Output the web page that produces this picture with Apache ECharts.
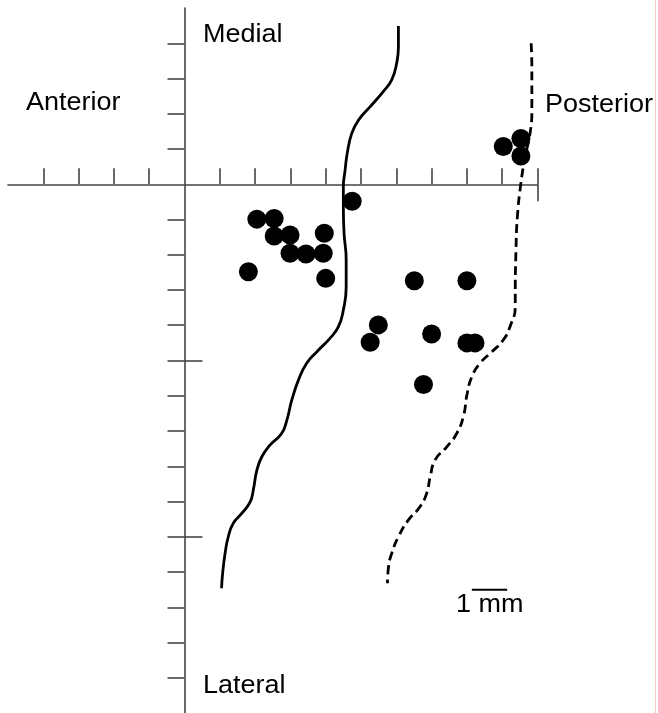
<!DOCTYPE html>
<html>
<head>
<meta charset="utf-8">
<script src="https://cdn.jsdelivr.net/npm/echarts@6/dist/echarts.min.js"></script>
<style>
  html, body { margin: 0; padding: 0; background: #ffffff; }
  #chart { width: 658px; height: 713px; }
</style>
</head>
<body>
<div id="chart"></div>
<script>
// Axis extent (mm) and tick positions
const xRange = [-5, 10];
const yRange = [-15, 5];
const xTickValues = [-4, -3, -2, -1, 1, 2, 3, 4, 5, 6, 7, 8, 9, 10];
const xCrossTicks = [10];
const yTickValues = [-14, -13, -12, -11, -10, -9, -8, -7, -6, -5, -4, -3, -2, -1, 1, 2, 3, 4];
const yCrossTicks = [-10, -5];

// Recording sites (mm)
const siteX = [2.05, 2.54, 2.54, 2.99, 2.99, 3.44, 3.96, 3.93, 1.81, 4.00, 4.75,
               6.51, 8.00, 5.49, 5.26, 7.00, 8.00, 8.23, 6.77,
               9.03, 9.53, 9.53];
const siteY = [-0.99, -0.97, -1.47, -1.44, -1.96, -1.98, -1.39, -1.96, -2.48, -2.67, -0.48,
               -2.74, -2.74, -3.99, -4.48, -4.25, -4.50, -4.50, -5.68,
               1.07, 1.30, 0.80];

// Solid boundary (mm)
const solidX = [6.06, 6.06, 6.01, 5.87, 5.63, 5.26, 4.93, 4.74, 4.61, 4.55, 4.50, 4.50, 4.52,
                4.58, 4.58, 4.50, 4.36, 4.12, 3.75, 3.46, 3.23, 3.04, 2.90, 2.75, 2.42, 2.19,
                2.05, 1.95, 1.86, 1.62, 1.38, 1.24, 1.15, 1.08, 1.05];
const solidY = [4.49, 3.90, 3.43, 2.96, 2.63, 2.20, 1.82, 1.45, 0.88, 0.40, -0.07, -0.64, -1.39,
                -2.15, -2.91, -3.57, -4.04, -4.37, -4.75, -5.08, -5.55, -6.12, -6.69, -7.07, -7.40, -7.73,
                -8.11, -8.67, -9.01, -9.34, -9.62, -10.00, -10.47, -11.04, -11.46];

// Dashed boundary (mm)
const dashX = [9.82, 9.84, 9.84, 9.79, 9.65, 9.53, 9.43, 9.39, 9.37, 9.37, 9.22, 9.03, 8.71, 8.37,
               8.14, 8.01, 7.90, 7.71, 7.43, 7.10, 6.96, 6.86, 6.67, 6.34, 6.06, 5.87, 5.78, 5.75];
const dashY = [4.00, 3.34, 2.11, 1.45, 0.78, 0.03, -0.92, -1.87, -3.19, -3.47, -4.04, -4.42, -4.75, -5.08,
               -5.46, -5.93, -6.59, -7.07, -7.45, -7.82, -8.30, -8.77, -9.15, -9.53, -10.00, -10.47, -10.85, -11.32];

// Scale bar: 1 mm
const scaleBarX = [8.14, 9.14];
const scaleBarY = [-11.5, -11.5];

const zip = (xs, ys) => xs.map((x, i) => [x, ys[i]]);

const axisColor = '#444444';
const textFont = '"Liberation Sans", Arial, Helvetica, sans-serif';

const chart = echarts.init(document.getElementById('chart'), null, { renderer: 'canvas' });

function baseAxis(extra) {
  return Object.assign({
    type: 'value',
    interval: 1,
    splitLine: { show: false },
    axisLabel: { show: false },
    axisLine: { show: true, onZero: true, lineStyle: { color: axisColor, width: 1.6 } },
  }, extra);
}

const label = (text, x, y) => ({
  type: 'text',
  x: x,
  y: y,
  scaleX: 1.08,
  style: {
    text: text,
    fill: '#000',
    font: '25px ' + textFont,
    textAlign: 'left',
    textVerticalAlign: 'middle',
    verticalAlign: 'middle'
  }
});

chart.setOption({
  animation: false,
  backgroundColor: '#ffffff',
  grid: { left: 8, right: 120.5, top: 8, bottom: 0, containLabel: false, outerBoundsMode: 'none' },
  xAxis: [
    baseAxis({
      min: xRange[0], max: xRange[1],
      position: 'bottom',
      axisTick: { show: true, inside: true, length: 16, customValues: xTickValues,
                  lineStyle: { color: axisColor, width: 1.6 } }
    }),
    baseAxis({
      min: xRange[0], max: xRange[1],
      position: 'bottom',
      axisLine: { show: false, onZero: true },
      axisTick: { show: true, inside: false, length: 17, customValues: xCrossTicks,
                  lineStyle: { color: axisColor, width: 1.6 } }
    })
  ],
  yAxis: [
    baseAxis({
      min: yRange[0], max: yRange[1],
      position: 'left',
      axisTick: { show: true, inside: false, length: 17, customValues: yTickValues,
                  lineStyle: { color: axisColor, width: 1.6 } }
    }),
    baseAxis({
      min: yRange[0], max: yRange[1],
      position: 'left',
      axisLine: { show: false, onZero: true },
      axisTick: { show: true, inside: true, length: 18, customValues: yCrossTicks,
                  lineStyle: { color: axisColor, width: 1.6 } }
    })
  ],
  series: [
    {
      type: 'line',
      data: zip(solidX, solidY),
      smooth: 0.5,
      showSymbol: false,
      silent: true,
      lineStyle: { color: '#000', width: 2.8 },
      z: 2
    },
    {
      type: 'line',
      data: zip(dashX, dashY),
      smooth: 0.5,
      showSymbol: false,
      silent: true,
      lineStyle: { color: '#000', width: 2.8, type: [9, 5] },
      z: 2
    },
    {
      type: 'line',
      data: zip(scaleBarX, scaleBarY),
      showSymbol: false,
      silent: true,
      lineStyle: { color: '#000', width: 2 },
      z: 2
    },
    {
      type: 'scatter',
      data: zip(siteX, siteY),
      symbol: 'circle',
      symbolSize: 19,
      itemStyle: { color: '#000', opacity: 1 },
      z: 3
    }
  ],
  graphic: [
    label('Medial', 203, 35),
    label('Anterior', 26, 103.5),
    label('Posterior', 545, 105),
    label('Lateral', 203, 686),
    label('1 mm', 456, 605),
    {
      type: 'line',
      shape: { x1: 655.5, y1: 0, x2: 655.5, y2: 713 },
      style: { stroke: '#f6c9c9', lineWidth: 1 }
    }
  ]
});
</script>
</body>
</html>
